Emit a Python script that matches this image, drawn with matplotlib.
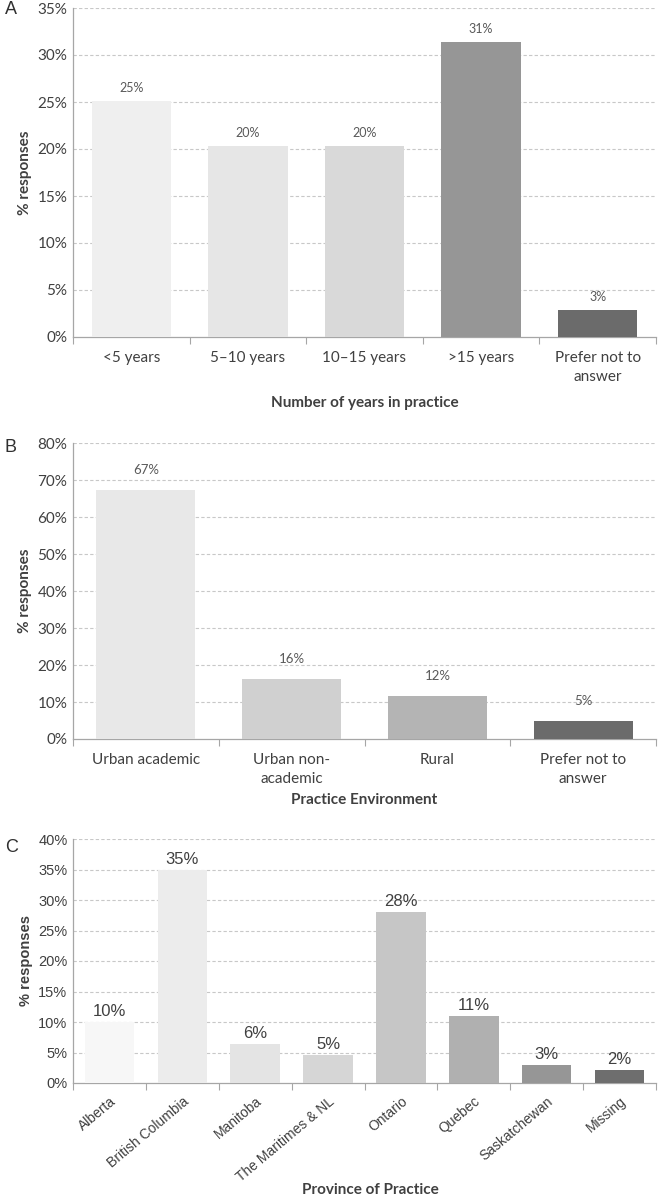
import matplotlib
matplotlib.use("Agg")
import matplotlib.pyplot as plt
from matplotlib.ticker import FuncFormatter, MultipleLocator

# ---- data ----
years_cats = ["<5 years", "5\u201310 years", "10\u201315 years", ">15 years", "Prefer not to\nanswer"]
years_vals = [25.1, 20.3, 20.3, 31.4, 2.9]
years_lbls = ["25%", "20%", "20%", "31%", "3%"]
years_cols = ["#efefef", "#e6e6e6", "#d9d9d9", "#969696", "#6b6b6b"]

env_cats = ["Urban academic", "Urban non-\nacademic", "Rural", "Prefer not to\nanswer"]
env_vals = [67.4, 16.2, 11.7, 4.8]
env_lbls = ["67%", "16%", "12%", "5%"]
env_cols = ["#e8e8e8", "#d0d0d0", "#b4b4b4", "#6b6b6b"]

prov_cats = ["Alberta", "British Columbia", "Manitoba", "The Maritimes & NL",
             "Ontario", "Quebec", "Saskatchewan", "Missing"]
prov_vals = [10.0, 35.0, 6.4, 4.6, 28.0, 11.0, 2.95, 2.2]
prov_lbls = ["10%", "35%", "6%", "5%", "28%", "11%", "3%", "2%"]
prov_cols = ["#f7f7f7", "#ececec", "#e4e4e4", "#d6d6d6", "#c6c6c6", "#b0b0b0", "#969696", "#6e6e6e"]

W, H = 670, 1199
fig = plt.figure(figsize=(W / 100, H / 100), dpi=100)
fig.patch.set_facecolor("white")

AXCOL = "#a6a6a6"
TXT = "#404040"


def rect(left, top, right, bottom):
    return [left / W, 1 - bottom / H, (right - left) / W, (bottom - top) / H]


def panel(r, cats, vals, lbls, cols, ymax, step, xlabel, font, tsize, lsize, lcol, loff,
          rot=False, rsize=None):
    ax = fig.add_axes(r)
    x = range(len(cats))
    ax.bar(x, vals, width=0.68, color=cols, zorder=3)
    for i, (v, t) in enumerate(zip(vals, lbls)):
        ax.annotate(t, (i, v), xytext=(0, loff), textcoords="offset points",
                    ha="center", va="bottom", fontsize=lsize, color=lcol, family=font)
    ax.set_xlim(-0.5, len(cats) - 0.5)
    ax.set_ylim(0, ymax)
    ax.yaxis.set_major_locator(MultipleLocator(step))
    ax.yaxis.set_major_formatter(FuncFormatter(lambda v, p: "%d%%" % round(v)))
    for y in range(step, ymax + 1, step):
        ax.axhline(y, color="#c8c8c8", lw=0.8, ls=(0, (3, 2)), zorder=1)
    for s in ["top", "right"]:
        ax.spines[s].set_visible(False)
    for s in ["left", "bottom"]:
        ax.spines[s].set_color(AXCOL)
        ax.spines[s].set_linewidth(0.9)
    ax.tick_params(axis="y", length=0, labelsize=tsize, labelcolor=TXT, pad=4)
    ax.set_xticks([i - 0.5 for i in range(len(cats) + 1)], minor=False)
    ax.set_xticklabels([])
    ax.set_xticks(list(x), minor=True)
    ax.tick_params(axis="x", which="major", length=5, color=AXCOL, direction="out")
    if rot:
        ax.tick_params(axis="x", which="minor", length=0, labelsize=rsize, labelcolor=TXT, pad=8)
        ax.set_xticklabels(cats, minor=True, rotation=40, ha="right", rotation_mode="anchor")
    else:
        ax.tick_params(axis="x", which="minor", length=0, labelsize=tsize, labelcolor=TXT, pad=10)
        ax.set_xticklabels(cats, minor=True, linespacing=1.45)
    for lab in ax.get_yticklabels() + ax.get_xticklabels(minor=True):
        lab.set_family(font)
    ax.set_ylabel("% responses", fontsize=tsize, fontweight="bold", color=TXT, family=font, labelpad=4)
    ax.set_xlabel(xlabel, fontsize=tsize, fontweight="bold", color=TXT, family=font)
    return ax


axA = panel(rect(73, 8, 656, 337), years_cats, years_vals, years_lbls, years_cols,
            35, 5, "Number of years in practice", "Lato", 11, 9, "#595959", 5)
axA.xaxis.labelpad = 9
axB = panel(rect(73, 443, 656, 739), env_cats, env_vals, env_lbls, env_cols,
            80, 10, "Practice Environment", "Lato", 11, 9.5, "#595959", 10)
axB.xaxis.labelpad = 5
axC = panel(rect(73, 839, 656, 1083), prov_cats, prov_vals, prov_lbls, prov_cols,
            40, 5, "Province of Practice", "Liberation Sans", 10.5, 12, "#404040", 2,
            rot=True, rsize=10)
axC.xaxis.label.set_family("Lato")
axC.xaxis.label.set_size(11)
axC.xaxis.set_label_coords(0.51, (1083 - 1183) / (1083 - 839))

for t, y in [("A", 10), ("B", 448), ("C", 848)]:
    fig.text(5 / W, 1 - y / H, t, fontsize=13, family="Liberation Sans", color="#303030",
             ha="left", va="center")

fig.savefig("out.png", dpi=100)
